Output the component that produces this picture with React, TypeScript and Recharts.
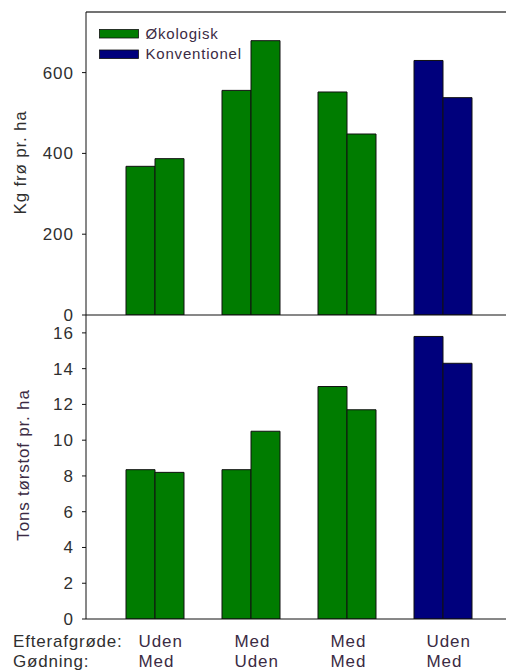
import React from 'react';
import { BarChart, Bar, XAxis, YAxis, Cell, ReferenceLine } from 'recharts';

// behandlinger (efterafgrøde / gødning)
const efterafgrode = ['Uden', 'Med', 'Med', 'Uden'];
const godning = ['Med', 'Uden', 'Med', 'Med'];
const dyrkning = ['Økologisk', 'Økologisk', 'Økologisk', 'Konventionel'];

// kg frø pr. ha, to søjler pr. behandling
const froA = [368, 556, 552, 630];
const froB = [387, 679, 448, 538];

// tons tørstof pr. ha
const torA = [8.35, 8.35, 13.0, 15.8];
const torB = [8.2, 10.5, 11.7, 14.3];

const froTicks = [0, 200, 400, 600];
const torTicks = [0, 2, 4, 6, 8, 10, 12, 14, 16];

const GREEN = '#007c00';
const NAVY = '#00007c';
const FONT = '"Liberation Sans", Arial, sans-serif';
const TICK_COLOR = '#2f2f2f';
const LABEL_COLOR = '#3b2b44';

const colorOf = (kind: string) => (kind === 'Konventionel' ? NAVY : GREEN);

const froData = efterafgrode.map((e, i) => ({ key: i, a: froA[i], b: froB[i] }));
const torData = efterafgrode.map((e, i) => ({ key: i, a: torA[i], b: torB[i] }));

function ValueTick(props: any) {
  const { x, y, payload } = props;
  return (
    <text x={x} y={y} dy={6} textAnchor="end" fontSize={17} fontFamily={FONT} fill={TICK_COLOR} letterSpacing={1}>
      {payload.value}
    </text>
  );
}

function TreatmentTick(props: any) {
  const { x, payload } = props;
  const i = payload.value;
  return (
    <g>
      <text x={x - 16.5} y={331.5} fontSize={17} fontFamily={FONT} fill={LABEL_COLOR} letterSpacing={0.9}>
        {efterafgrode[i]}
      </text>
      <text x={x - 16.5} y={352} fontSize={17} fontFamily={FONT} fill={LABEL_COLOR} letterSpacing={0.9}>
        {godning[i]}
      </text>
    </g>
  );
}

function bars(data: any[]) {
  return ['a', 'b'].map((k) => (
    <Bar key={k} dataKey={k} isAnimationActive={false} stroke="#111" strokeWidth={1}>
      {data.map((d, i) => (
        <Cell key={i} fill={colorOf(dyrkning[i])} />
      ))}
    </Bar>
  ));
}

export default function App() {
  return (
    <div style={{ position: 'absolute', left: 0, top: 0, width: 506, height: 671, background: '#fff', overflow: 'hidden' }}>
      <div style={{ position: 'absolute', left: 0, top: 315 }}>
        <BarChart width={506} height={356} data={torData} margin={{ top: 0, right: 0, left: 0, bottom: 0 }} barGap={0} barSize={29}>
          <XAxis
            dataKey="key"
            height={52}
            tickLine={false}
            tickSize={0}
            tickMargin={0}
            interval={0}
            tick={<TreatmentTick />}
            axisLine={{ stroke: '#111' }}
            padding={{ left: 21, right: 15 }}
          />
          <YAxis
            domain={[0, 17]}
            ticks={torTicks}
            interval={0}
            width={86}
            tickSize={4}
            tickMargin={8}
            axisLine={{ stroke: '#111' }}
            tickLine={{ stroke: '#111' }}
            tick={<ValueTick />}
            allowDataOverflow
          />
          {bars(torData)}
        </BarChart>
      </div>
      <div style={{ position: 'absolute', left: 0, top: 0 }}>
        <BarChart width={506} height={330} data={froData} margin={{ top: 12, right: 0, left: 0, bottom: 14 }} barGap={0} barSize={29}>
          <XAxis dataKey="key" height={1} tick={false} tickLine={false} axisLine={{ stroke: '#111' }} padding={{ left: 21, right: 15 }} />
          <YAxis
            domain={[0, 750]}
            ticks={froTicks}
            interval={0}
            width={86}
            tickSize={4}
            tickMargin={8}
            axisLine={{ stroke: '#111' }}
            tickLine={{ stroke: '#111' }}
            tick={<ValueTick />}
            allowDataOverflow
          />
          <ReferenceLine y={750} stroke="#444" strokeWidth={1.5} />
          {bars(froData)}
        </BarChart>
      </div>
      <svg width={506} height={671} style={{ position: 'absolute', left: 0, top: 0, pointerEvents: 'none' }}>
        <text transform="translate(26,162.5) rotate(-90)" textAnchor="middle" fontSize={17} fontFamily={FONT} fill={TICK_COLOR} letterSpacing={0.8}>
          Kg frø pr. ha
        </text>
        <text transform="translate(29,465) rotate(-90)" textAnchor="middle" fontSize={17} fontFamily={FONT} fill={LABEL_COLOR} letterSpacing={0.8}>
          Tons tørstof pr. ha
        </text>
        <rect x={99.5} y={29.5} width={39} height={8.5} fill={GREEN} stroke="#111" strokeWidth={0.8} />
        <text x={145.5} y={38.5} fontSize={15} fontFamily={FONT} fill={LABEL_COLOR} letterSpacing={0.8}>
          Økologisk
        </text>
        <rect x={99.5} y={50} width={39} height={8.5} fill={NAVY} stroke="#111" strokeWidth={0.8} />
        <text x={145.5} y={59} fontSize={15} fontFamily={FONT} fill={LABEL_COLOR} letterSpacing={0.8}>
          Konventionel
        </text>
        <text x={13} y={646.5} fontSize={17} fontFamily={FONT} fill={TICK_COLOR} letterSpacing={0.8}>
          Efterafgrøde:
        </text>
        <text x={13} y={667} fontSize={17} fontFamily={FONT} fill={TICK_COLOR} letterSpacing={0.8}>
          Gødning:
        </text>
      </svg>
    </div>
  );
}
